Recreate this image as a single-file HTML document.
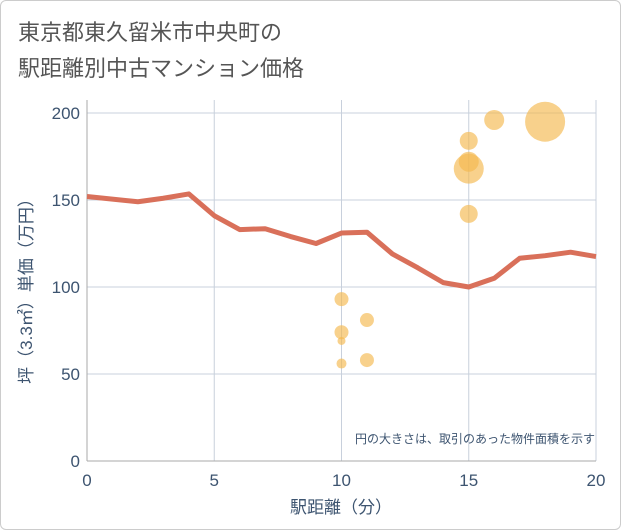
<!DOCTYPE html>
<html><head><meta charset="utf-8"><style>
body{margin:0;background:#fff;font-family:"Liberation Sans","Noto Sans CJK JP",sans-serif}
#wrap{position:relative;width:619px;height:528px;background:#fff;border:1px solid #ccc;border-radius:6px;overflow:hidden}
</style></head><body>
<div id="wrap">
<svg id="chart" width="621" height="530" style="position:absolute;left:-1px;top:-1px;font-family:'Liberation Sans','Noto Sans CJK JP',sans-serif">
<text x="18" y="40" font-size="22" fill="#555">東京都東久留米市中央町の</text>
<text x="18" y="76" font-size="22" fill="#555">駅距離別中古マンション価格</text>
<rect x="87" y="100" width="509" height="361" fill="#fff"/>
<g id="grid"></g>
<line x1="87" y1="100" x2="87" y2="461" stroke="#aaa"/>
<line x1="87" y1="461" x2="596" y2="461" stroke="#aaa"/>
<g id="bubbles"></g><g id="line"></g><g id="ticks"></g>
<text x="595" y="443" font-size="12" fill="#3d5470" text-anchor="end">円の大きさは、取引のあった物件面積を示す</text>
<text x="341" y="513" font-size="17" fill="#3d5470" text-anchor="middle">駅距離（分）</text>
<text transform="translate(32,287) rotate(-90)" font-size="17" fill="#3d5470" text-anchor="middle">坪（3.3㎡）単価（万円）</text>
</svg></div>
<script>
const lineX=[0,2,3,4,5,6,7,8,9,10,11,12,13,14,15,16,17,18,19,20];
const lineY=[152,149,151,153.5,141,133,133.5,129,125,131,131.5,119,111,102.5,100,105,116.5,118,120,117.5];
const bubX=[10,10,10,10,11,11,15,15,15,15,16,18];
const bubY=[93,74,69,56,81,58,184,172,168,142,196,195];
const bubR=[7,7,4,5,7,7,9,10,15,9,10,20];
const xTicks=[0,5,10,15,20];
const yTicks=[0,50,100,150,200];
const sx=v=>87+v*(596-87)/20, sy=v=>461-v*(461-113)/200;
const NS='http://www.w3.org/2000/svg';
function mk(t,a,p){const e=document.createElementNS(NS,t);for(const k in a)e.setAttribute(k,a[k]);p.appendChild(e);return e;}
const g=document.getElementById('grid'),tk=document.getElementById('ticks');
xTicks.forEach(v=>{const l=mk('line',{x1:sx(v),x2:sx(v),y1:100,y2:461,stroke:'#c8d0dc','stroke-width':1},g);

const t=mk('text',{x:sx(v),y:486,'font-size':17,fill:'#3d5470','text-anchor':'middle'},tk);t.textContent=v;
});
yTicks.forEach(v=>{const l=mk('line',{x1:87,x2:596,y1:sy(v),y2:sy(v),stroke:'#c8d0dc','stroke-width':1},g);

const t=mk('text',{x:80,y:sy(v)+6,'font-size':17,fill:'#3d5470','text-anchor':'end'},tk);t.textContent=v;
});
const bg=document.getElementById('bubbles');
bubX.forEach((x,i)=>{const c=mk('circle',{cx:sx(x),cy:sy(bubY[i]),r:bubR[i],fill:'#f5b94e','fill-opacity':0.65},bg);
});
const p=mk('polyline',{points:lineX.map((x,i)=>sx(x)+','+sy(lineY[i])).join(' '),fill:'none',stroke:'#d9705a','stroke-width':5,'stroke-linejoin':'round'},document.getElementById('line'));

</script></body></html>
